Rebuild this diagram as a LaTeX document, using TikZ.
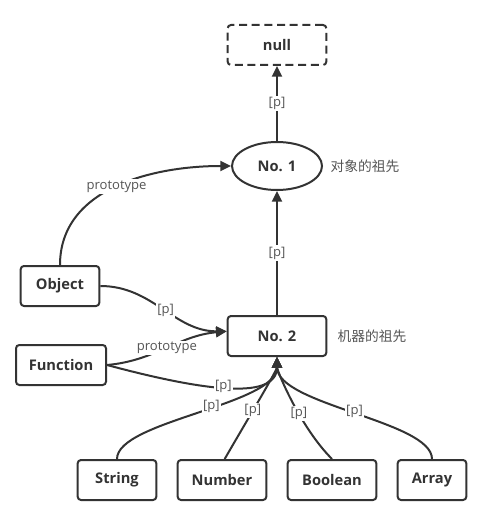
\documentclass[tikz,border=0pt]{standalone}
\usepackage{fontspec}
\setmainfont{Open Sans}
\newfontfamily\cjk{Noto Sans CJK SC}
\usepackage{tikz}
\usetikzlibrary{arrows.meta,shapes.geometric}

\definecolor{ink}{HTML}{333333}
\definecolor{tagink}{HTML}{555555}

\tikzset{
  box/.style={draw=ink, line width=1.5pt, rounded corners=2.5pt, minimum height=30pt,
    inner sep=0pt, text=ink, font=\bfseries\fontsize{11}{13}\selectfont},
  oval/.style={draw=ink, line width=1.5pt, ellipse, minimum width=67.5pt, minimum height=36pt,
    inner sep=0pt, text=ink, font=\bfseries\fontsize{11}{13}\selectfont},
  link/.style={draw=ink, line width=1.5pt, -{Triangle[length=8pt,width=7.5pt]}},
  tag/.style={fill=white, inner sep=1pt, text=tagink, font=\fontsize{9.8}{11}\selectfont},
  note/.style={anchor=west, text=tagink, font=\cjk\fontsize{10.3}{12}\selectfont},
}

\begin{document}
\begin{tikzpicture}[x=0.75pt, y=-0.75pt]
\useasboundingbox (0,0) rectangle (491,513);
%%%%% Nodes %%%%%
\node[box, dash pattern=on 6pt off 3.5pt, minimum width=74pt] (null) at (277,45) {null};
\node[oval] (no1) at (277,166) {No. 1};
\node[box, minimum width=74pt] (no2) at (277,336) {No. 2};
\node[note] (note1) at (326,166) {对象的祖先};
\node[note] (note2) at (333,336) {机器的祖先};
\node[box, minimum width=59pt] (obj) at (60,286) {Object};
\node[box, minimum width=67.5pt] (fun) at (61,365) {Function};
\node[box, minimum width=59pt] (str) at (117,480) {String};
\node[box, minimum width=66.5pt] (num) at (222,480) {Number};
\node[box, minimum width=66.5pt] (bool) at (332,480) {Boolean};
\node[box, minimum width=51.5pt] (arr) at (432,480) {Array};
%%%%% Links %%%%%
\draw[link] (no1) -- node[tag] {[p]} (null);
\draw[link] (no2) -- node[tag] {[p]} (no1);
\draw[link] (obj.north) to[out=90, in=180] node[tag, pos=0.5] {prototype} (no1.west);
\draw[link] (obj.east) to[out=0, in=180] node[tag, pos=0.52] {[p]} ([yshift=3.5pt]no2.west);
\draw[link] (fun.east) to[out=5, in=185] node[tag, pos=0.5] {prototype} ([yshift=3.5pt]no2.west);
\draw[link] (fun.east) to[out=-15, in=-90, out looseness=1.3, in looseness=0.7] node[tag, pos=0.5] {[p]} (no2.south);
\draw[link] (str.north) .. controls +(0,-38) and +(0,48) .. node[tag, pos=0.56] {[p]} (no2.south);
\draw[link] ([xshift=2pt]num.north) to[out=60, in=-90, in looseness=0.3] node[tag, pos=0.4] {[p]} (no2.south);
\draw[link] (bool.north) to[out=135, in=-90, in looseness=0.3] node[tag, pos=0.4] {[p]} (no2.south);
\draw[link] (arr.north) .. controls +(0,-38) and +(0,48) .. node[tag, pos=0.5] {[p]} (no2.south);
\end{tikzpicture}
\end{document}
